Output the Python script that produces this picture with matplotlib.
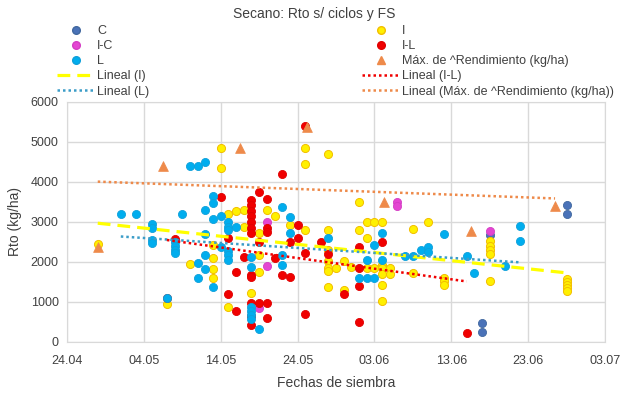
import numpy as np
import matplotlib
matplotlib.use("Agg")
import matplotlib.pyplot as plt
from matplotlib.lines import Line2D

plt.rcParams['font.family'] = ['Liberation Sans', 'DejaVu Sans']

# x = days since 24.04
tick_days = [0, 10, 20, 30, 40, 50, 60, 70]
tick_labels = ["24.04", "04.05", "14.05", "24.05", "03.06", "13.06", "23.06", "03.07"]

c_days = [54, 54, 55, 65, 65]
c_vals = [465, 260, 2680, 3420, 3200]

ic_days = [26, 26, 25, 43, 43, 55]
ic_vals = [3000, 1890, 850, 3500, 3400, 2780]

l_days = [7, 9, 15, 16, 17, 18, 11, 11, 11, 11, 14, 14, 14, 14, 13, 17, 17, 18, 18, 18, 18,
          19, 19, 19, 19, 20, 21, 21, 21, 22, 21, 21, 21, 20, 24, 24, 24, 24, 24, 24, 25,
          28, 28, 28, 29, 29, 34, 39, 40, 41, 41, 38, 39, 40, 44, 45, 46, 47, 47, 49, 52,
          53, 57, 59, 59]
l_vals = [3200, 3200, 3200, 4390, 4390, 4500, 2950, 2850, 2550, 2480, 2500, 2400, 2300, 2230,
          1100, 1975, 1600, 1830, 2180, 2700, 3310, 1370, 3650, 3470, 3080, 3150, 3010, 2880,
          2800, 2880, 2270, 2180, 2060, 2380, 2130, 1880, 880, 780, 680, 580, 330, 3380, 2170,
          1920, 3130, 2720, 2600, 2050, 2420, 2730, 2050, 1610, 1610, 1610, 2140, 2140, 2300,
          2380, 2260, 2700, 2140, 1730, 1890, 2900, 2530]

i_days = [4, 13, 16, 19, 19, 19, 19, 20, 20, 21, 22, 23, 23, 21, 24, 25, 25, 25, 26, 27, 29,
          31, 31, 31, 34, 34, 34, 34, 34, 34, 34, 35, 36, 36, 37, 38, 38, 39, 39, 39, 40, 40,
          41, 41, 41, 41, 41, 41, 42, 42, 45, 45, 47, 49, 49, 49, 55, 55, 55, 55, 55,
          65, 65, 65, 65, 65]
i_vals = [2450, 960, 1950, 2420, 2090, 1830, 1590, 4850, 4350, 3210, 3280, 3300, 2880, 880,
          1220, 2720, 2170, 1760, 3300, 3140, 2920, 4840, 4440, 2800, 4700, 2810, 2310, 2020,
          1860, 1770, 1370, 1860, 2020, 1310, 1870, 2810, 3500, 2990, 2590, 1860, 2990, 1860,
          2990, 1930, 1860, 1690, 1430, 1020, 1860, 1690, 2820, 1720, 2990, 1610, 1530, 1430,
          2520, 2400, 2310, 2200, 1530, 1580, 1500, 1420, 1340, 1270]

il_days = [13, 14, 20, 21, 21, 22, 22, 23, 24, 24, 24, 24, 24, 24, 24, 24, 24, 24, 24, 24,
           25, 25, 25, 26, 26, 26, 26, 26, 27, 28, 28, 29, 29, 30, 30, 31, 31, 31, 33, 34, 36,
           38, 38, 38, 38, 41, 52]
il_vals = [1100, 2570, 3620, 2600, 1190, 1760, 780, 2130, 3560, 3420, 3280, 3140, 3000, 2860,
           2720, 1670, 1630, 970, 650, 420, 3740, 2510, 970, 3580, 2840, 2760, 970, 590, 2090,
           4200, 1670, 1630, 2510, 2920, 2590, 5410, 2220, 700, 2510, 2210, 1200, 2380, 1860,
           1410, 510, 2510, 235]

max_days = [4, 12.5, 22.5, 31.2, 41.2, 52.6, 63.5]
max_vals = [2375, 4390, 4840, 5380, 3500, 2780, 3390]

W, H = 628, 395
fig = plt.figure(figsize=(W / 100, H / 100), dpi=100)
ax = fig.add_axes([67 / W, 1 - 342 / H, (605 - 67) / W, (342 - 102) / H])

grid_c = '#D9D9D9'
ax.set_xlim(0, 70)
ax.set_ylim(0, 6000)
ax.set_xticks(tick_days)
ax.set_xticklabels(tick_labels)
ax.set_yticks(range(0, 6001, 1000))
ax.grid(True, color=grid_c, linewidth=1)
ax.set_axisbelow(True)
for s in ax.spines.values():
    s.set_color(grid_c)
ax.tick_params(length=0, labelsize=9, colors='#404040')
ax.tick_params(axis='x', pad=9)
ax.tick_params(axis='y', pad=6)

s_c = 34
# drawing order as in the source chart: C, I, I-C, I-L, L, Máx
ax.scatter(c_days, c_vals, s=s_c, color='#4A72B8', edgecolor='#41689F', linewidth=0.6, zorder=3)
ax.scatter(i_days, i_vals, s=s_c, color='#FFF000', edgecolor='#F2BE00', linewidth=0.7, zorder=3)
ax.scatter(ic_days, ic_vals, s=s_c, color='#E446D2', edgecolor='#D43CC4', linewidth=0.6, zorder=3)
ax.scatter(il_days, il_vals, s=s_c, color='#F00000', edgecolor='#E00000', linewidth=0.6, zorder=3)
ax.scatter(l_days, l_vals, s=s_c, color='#00ADEE', edgecolor='#0FA0DA', linewidth=0.6, zorder=3)
ax.scatter(max_days, max_vals, s=50, marker='^', color='#EE8A4A', edgecolor='#EE8A4A',
           linewidth=0.5, zorder=4)


def trend(xs, ys, **kw):
    xs = np.asarray(xs, float)
    ys = np.asarray(ys, float)
    m, b = np.polyfit(xs, ys, 1)
    xx = np.array([xs.min(), xs.max()])
    ax.plot(xx, m * xx + b, zorder=5, **kw)


trend(i_days, i_vals, color='#FFFF00', lw=2.3, ls=(0, (4, 2.2)))
trend(l_days, l_vals, color='#3C9DC8', lw=1.8, ls=(0, (1, 1.2)))
trend(il_days, il_vals, color='#F00000', lw=1.8, ls=(0, (1, 1.2)))
trend(max_days, max_vals, color='#EE8A4A', lw=1.8, ls=(0, (1, 1.2)))

ax.set_xlabel('Fechas de siembra', fontsize=10, color='#404040', labelpad=7)
ax.set_ylabel('Rto (kg/ha)', fontsize=10, color='#404040', labelpad=6)
fig.text(0.5, 1 - 14 / H, 'Secano: Rto s/ ciclos y FS', ha='center', va='center',
         fontsize=10, color='#404040')


def mk(color, ec, marker='o', ms=5.5):
    return Line2D([], [], ls='none', marker=marker, markersize=ms, markerfacecolor=color,
                  markeredgecolor=ec)


def ln(color, ls, lw):
    return Line2D([], [], color=color, ls=ls, lw=lw)


h1 = [mk('#4A72B8', '#41689F'), mk('#E446D2', '#D43CC4'), mk('#00ADEE', '#0FA0DA'),
      ln('#FFFF00', (0, (4, 2.2)), 2.3), ln('#3C9DC8', (0, (1, 1.2)), 1.8)]
l1 = ['C', 'I-C', 'L', 'Lineal (I)', 'Lineal (L)']
h2 = [mk('#FFF000', '#F2BE00'), mk('#F00000', '#E00000'), mk('#EE8A4A', '#EE8A4A', '^', 5.5),
      ln('#F00000', (0, (1, 1.2)), 1.8), ln('#EE8A4A', (0, (1, 1.2)), 1.8)]
l2 = ['I', 'I-L', 'Máx. de ^Rendimiento (kg/ha)', 'Lineal (I-L)',
      'Lineal (Máx. de ^Rendimiento (kg/ha))']

common = dict(frameon=False, fontsize=9, handlelength=3.0, handletextpad=0.2,
              labelspacing=0.25, borderpad=0, borderaxespad=0, loc='upper left',
              labelcolor='#404040')
leg1 = fig.legend(h1, l1, bbox_to_anchor=(57 / W, 1 - 25 / H), **common)
leg2 = fig.legend(h2, l2, bbox_to_anchor=(362 / W, 1 - 25 / H), **common)

fig.savefig('out.png', dpi=100)
